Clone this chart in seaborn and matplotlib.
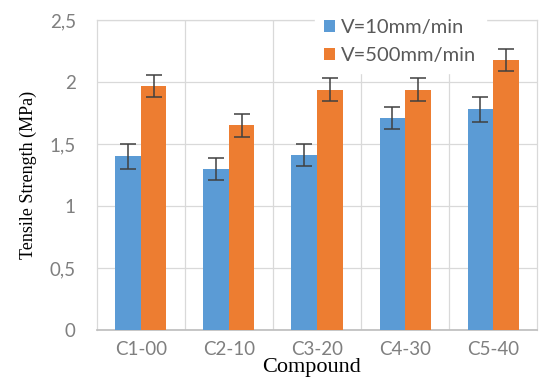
import matplotlib
matplotlib.use("Agg")
import matplotlib.pyplot as plt
import seaborn as sns
import pandas as pd
import numpy as np

compounds = ["C1-00", "C2-10", "C3-20", "C4-30", "C5-40"]
series = ["V=10mm/min", "V=500mm/min"]
v10 = [1.40, 1.30, 1.41, 1.71, 1.78]
v500 = [1.97, 1.65, 1.94, 1.94, 2.18]
err10 = [0.10, 0.09, 0.09, 0.09, 0.10]
err500 = [0.09, 0.09, 0.09, 0.09, 0.09]
yticks = [0, 0.5, 1, 1.5, 2, 2.5]
ytick_labels = ["0", "0,5", "1", "1,5", "2", "2,5"]
colors = ["#5B9BD5", "#ED7D31"]

df = pd.DataFrame({
    "Compound": compounds * 2,
    "Series": [series[0]] * 5 + [series[1]] * 5,
    "Value": v10 + v500,
})

sns.set_theme(style="white")
plt.rcParams["font.family"] = ["Lato", "DejaVu Sans"]

fig = plt.figure(figsize=(5.4, 3.79), dpi=100)
ax = fig.add_axes([0.179, 0.129, 0.816, 0.818])

sns.barplot(data=df, x="Compound", y="Value", hue="Series", palette=colors,
            order=compounds, hue_order=series, width=0.58, errorbar=None,
            saturation=1, linewidth=0, ax=ax, zorder=3)

# error bars placed at the centres of the drawn bars
bars = [p for p in ax.patches if p.get_height() > 0]
errs = err10 + err500
for p, e in zip(bars, errs):
    xc = p.get_x() + p.get_width() / 2
    ax.errorbar(xc, p.get_height(), yerr=e, fmt="none", ecolor="#404040",
                elinewidth=1.1, capsize=5.5, capthick=1.1, zorder=4)

ax.set_ylim(0, 2.5)
ax.set_xlim(-0.5, 4.5)
ax.set_yticks(yticks)
ax.set_yticklabels(ytick_labels)
ax.grid(axis="y", color="#D9D9D9", linewidth=0.9, zorder=0)
ax.set_axisbelow(True)
for xb in np.arange(0.5, 4.5, 1.0):
    ax.axvline(xb, color="#D9D9D9", linewidth=0.9, zorder=0)
for s in ["top", "right", "left"]:
    ax.spines[s].set_color("#D9D9D9")
    ax.spines[s].set_linewidth(0.9)
ax.spines["bottom"].set_color("#BFBFBF")
ax.tick_params(axis="both", length=0, labelsize=13.5, labelcolor="#7F7F7F")
ax.tick_params(axis="y", pad=15)
ax.tick_params(axis="x", pad=8)

ax.set_xlabel("Compound", family=["Liberation Serif"], fontsize=16, color="black")
ax.xaxis.label.set_va("center")
ax.xaxis.set_label_coords(0.487, -0.122)
ax.set_ylabel("Tensile Strength (MPa)", family=["Liberation Serif"], fontsize=13,
              color="black")
ax.yaxis.label.set_va("center")
ax.yaxis.label.set_ha("center")
ax.yaxis.set_label_coords(-0.156, 0.5)

handles, labels = ax.get_legend_handles_labels()
leg = ax.legend(handles, labels, loc="upper left", bbox_to_anchor=(0.565, 1.0),
                bbox_transform=fig.transFigure, frameon=True, fancybox=False,
                facecolor="white", edgecolor="white", framealpha=1,
                fontsize=14.5, labelcolor="#595959", handlelength=0.55,
                handleheight=0.55, handletextpad=0.3, labelspacing=0.55,
                borderpad=0.45)
leg.set_zorder(5)

fig.savefig("out.png", dpi=100)
